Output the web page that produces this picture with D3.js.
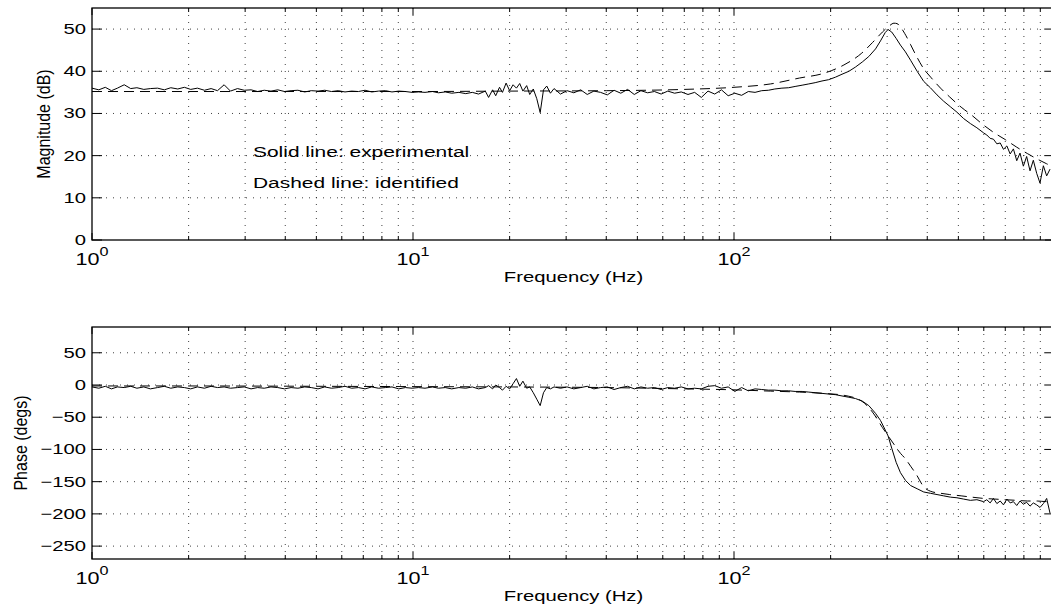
<!DOCTYPE html>
<html>
<head>
<meta charset="utf-8">
<script src="https://cdn.jsdelivr.net/npm/d3@7"></script>
<style>
  body { margin: 0; background: #fff; }
  svg { display: block; font-family: "Liberation Sans", Arial, Helvetica, sans-serif; }
  svg text { fill: #000; -webkit-font-smoothing: antialiased; }
</style>
</head>
<body>
<div id="chart"></div>
<script>
var freqExp = [
  1.0, 1.05, 1.1, 1.15, 1.2, 1.26, 1.32, 1.38, 1.45, 1.52,
  1.6, 1.68, 1.76, 1.85, 1.94, 2.03, 2.13, 2.24, 2.35, 2.46,
  2.58, 2.7, 2.84, 2.98, 3.13, 3.28, 3.44, 3.61, 3.79, 3.98,
  4.17, 4.38, 4.6, 4.82, 5.06, 5.31, 5.57, 5.85, 6.14, 6.44,
  6.76, 7.09, 7.44, 7.81, 8.2, 8.6, 9.03, 9.47, 9.94, 10.4,
  10.9, 11.5, 12.0, 12.6, 13.2, 13.9, 14.6, 15.3, 16.0, 16.8,
  17.2, 17.7, 18.1, 18.6, 19.0, 19.5, 20.0, 20.5, 21.0, 21.5,
  22.0, 22.6, 23.1, 23.7, 24.3, 24.9, 25.5, 26.1, 26.8, 27.5,
  28.8, 30.2, 31.7, 33.3, 34.9, 36.6, 38.4, 40.3, 42.3, 44.4,
  46.6, 48.9, 51.3, 53.8, 56.5, 59.3, 62.2, 65.3, 68.5, 71.9,
  75.4, 79.1, 83.0, 87.1, 91.4, 95.9, 100.6, 105.6, 110.8, 116.3,
  122, 128, 134, 141, 148, 155, 163, 171, 179, 188,
  197, 207, 217, 228, 239, 251, 263, 276, 286, 296,
  302, 310, 320, 330, 342, 355, 372, 390, 409, 429,
  450, 472, 495, 519, 545, 571, 599, 613, 628, 643,
  659, 675, 691, 708, 725, 742, 760, 778, 797, 816,
  836, 856, 877, 898, 920, 942, 965
];
var magExp = [
  36.0, 35.6, 36.2, 35.4, 36.0, 36.8, 35.9, 36.1, 35.7, 35.9,
  36.0, 35.6, 36.1, 35.8, 36.2, 35.7, 36.0, 35.5, 35.9, 35.4,
  36.8, 35.3, 35.9, 35.5, 35.6, 35.2, 35.5, 35.3, 35.6, 35.2,
  35.4, 35.5, 35.1, 35.4, 35.3, 35.5, 35.2, 35.4, 35.1, 35.3,
  35.2, 35.5, 35.1, 35.3, 35.4, 35.1, 35.3, 35.2, 35.0, 35.1,
  35.0, 35.2, 34.9, 35.1, 34.8, 35.0, 34.7, 35.0, 34.6, 35.3,
  33.8, 35.6, 34.2, 36.2, 35.0, 37.2, 35.4, 36.8, 36.0, 37.1,
  35.3, 36.6, 34.5, 35.8, 33.5, 30.2, 35.6, 36.5, 34.8, 35.9,
  34.6, 35.4, 34.9, 35.6, 34.5, 35.3, 35.0, 34.4, 35.5, 34.8,
  35.7, 34.5, 35.4, 34.9, 35.2, 34.6, 35.3, 34.8, 35.1, 34.5,
  35.0, 33.8, 35.3, 34.6, 35.6, 34.2, 34.8, 34.3, 35.2, 35.0,
  35.4, 35.5, 35.8, 36.0, 36.1, 36.4, 36.7, 37.0, 37.3, 37.7,
  38.0, 38.6, 39.3, 40.0, 41.0, 42.2, 43.5, 45.3, 47.2, 49.2,
  49.9, 49.3, 47.8, 46.2, 44.6, 42.6, 40.0, 37.6, 36.1, 34.4,
  32.9, 31.6, 30.3, 28.8, 27.6, 26.6, 25.4, 24.9, 24.1, 23.9,
  22.8, 23.0, 21.5, 22.3, 20.4, 21.6, 18.8, 20.6, 17.5, 19.8,
  16.4, 18.9, 15.8, 13.5, 17.6, 15.2, 16.8
];
var phaseExp = [
  -3, -5, -2, -6, -3, -4, -2, -5, -3, -6,
  -4, -2, -5, -3, -4, -6, -3, -5, -2, -4,
  -3, -5, -4, -3, -6, -4, -5, -3, -4, -6,
  -4, -5, -3, -4, -6, -3, -5, -4, -2, -5,
  -4, -6, -3, -5, -4, -3, -6, -4, -5, -4,
  -5, -3, -5, -4, -6, -4, -5, -3, -6, -4,
  -1, -6, 0, -4, -8, -2, -6, 2, 10, -2,
  6, -5, -3, -12, -22, -32, -12, -4, -6, -3,
  -5, -3, -6, -4, -2, -6, -4, -3, -7, -4,
  -2, -6, -3, -5, -4, -7, -4, -5, -3, -6,
  -5, -6, -2, -1, -5, -3, -10, -4, -9, -6,
  -7, -8, -8, -9, -9, -10, -10, -11, -12, -13,
  -14, -15, -17, -19, -21, -25, -32, -44, -55, -70,
  -79, -98, -120, -136, -148, -156, -161, -166, -168, -170,
  -172, -174, -175, -177, -179, -178, -181, -178, -183, -176,
  -184, -180, -186, -177, -183, -181, -187, -180, -185, -182,
  -188, -183, -186, -190, -184, -176, -199
];

// identified model (dashed line)
var freqId = [1, 2, 5, 10, 20, 40, 70, 100, 130, 160,
  190, 220, 250, 270, 290, 305, 315, 322, 330, 340,
  355, 370, 390, 410, 440, 470, 510, 550, 600, 650,
  700, 760, 820, 880, 940, 1000];
var magId = [35.2, 35.2, 35.2, 35.2, 35.3, 35.4, 35.7, 36.2, 37.0, 38.4,
  39.5, 41.5, 44.3, 46.8, 49.3, 50.8, 51.4, 51.3, 50.5, 49.0,
  46.3, 43.6, 40.6, 38.6, 36.0, 33.9, 31.5, 29.6, 27.2, 25.3,
  23.8, 22.0, 20.5, 19.2, 18.1, 17.1];
var phaseId = [-1.5, -1.5, -2, -2.5, -3, -4, -6, -7.5, -9.5, -11,
  -13, -16, -25, -42, -66, -82, -92, -99, -106, -113,
  -126, -139, -158, -165, -168, -170, -172, -174, -176, -177,
  -178, -179, -180, -180, -181, -181];

var magTicks = [0, 10, 20, 30, 40, 50];
var phaseTicks = [50, 0, -50, -100, -150, -200, -250];
var decades = [1, 10, 100];
var decadeExp = ["0", "1", "2"];

var W = 1051, H = 609;
var SX = 1.35;   // the picture's text is stretched sideways

var svg = d3.select("#chart").append("svg")
    .attr("width", W)
    .attr("height", H);

var x = d3.scaleLog().domain([1, 1000]).range([92, 1055]);
var xTicks = x.ticks();

function addText(g, px, py, anchor, size, str) {
  return g.append("text")
      .attr("transform", "translate(" + px + "," + py + ") scale(" + SX + ",1)")
      .attr("text-anchor", anchor)
      .attr("font-size", size)
      .attr("fill", "#000")
      .text(str);
}

function drawPanel(p) {
  var y = d3.scaleLinear().domain(p.yDomain).range([p.bottom, p.top]);
  var g = svg.append("g");
  var x0 = x.range()[0], x1 = x.range()[1];

  // dotted grid
  g.selectAll(".vgrid")
      .data(xTicks.filter(function(v) { return v > 1 && v < 1000; }))
      .enter().append("line")
      .attr("x1", function(d) { return x(d); })
      .attr("x2", function(d) { return x(d); })
      .attr("y1", p.top).attr("y2", p.bottom)
      .attr("stroke", "#000").attr("stroke-opacity", 0.75)
      .attr("stroke-width", 1)
      .attr("stroke-dasharray", "1,6");
  g.selectAll(".hgrid")
      .data(p.yTicks.filter(function(v) { return y(v) < p.bottom - 1; }))
      .enter().append("line")
      .attr("x1", x0).attr("x2", x1)
      .attr("y1", function(d) { return y(d); })
      .attr("y2", function(d) { return y(d); })
      .attr("stroke", "#000").attr("stroke-opacity", 0.75)
      .attr("stroke-width", 1)
      .attr("stroke-dasharray", "1,6");

  // x ticks, bottom and top, pointing in
  function tickLen(v) { return decades.indexOf(v) >= 0 ? 7 : 4; }
  g.selectAll(".xtb").data(xTicks).enter().append("line")
      .attr("x1", function(d) { return x(d); }).attr("x2", function(d) { return x(d); })
      .attr("y1", p.bottom).attr("y2", function(d) { return p.bottom - tickLen(d); })
      .attr("stroke", "#000");
  g.selectAll(".xtt").data(xTicks).enter().append("line")
      .attr("x1", function(d) { return x(d); }).attr("x2", function(d) { return x(d); })
      .attr("y1", p.top).attr("y2", function(d) { return p.top + tickLen(d); })
      .attr("stroke", "#000");

  // y ticks, left and right
  g.selectAll(".ytl").data(p.yTicks).enter().append("line")
      .attr("x1", x0).attr("x2", x0 + 10)
      .attr("y1", function(d) { return y(d); }).attr("y2", function(d) { return y(d); })
      .attr("stroke", "#000");
  g.selectAll(".ytr").data(p.yTicks).enter().append("line")
      .attr("x1", x1).attr("x2", x1 - 10)
      .attr("y1", function(d) { return y(d); }).attr("y2", function(d) { return y(d); })
      .attr("stroke", "#000");

  // box
  g.append("rect")
      .attr("x", x0).attr("y", p.top)
      .attr("width", x1 - x0).attr("height", p.bottom - p.top)
      .attr("fill", "none").attr("stroke", "#000").attr("stroke-width", 1.3);

  // curves
  var solid = d3.line()
      .x(function(d) { return x(d[0]); })
      .y(function(d) { return y(d[1]); });
  var dashed = d3.line()
      .x(function(d) { return x(d[0]); })
      .y(function(d) { return y(d[1]); })
      .curve(d3.curveMonotoneX);

  g.append("path")
      .datum(d3.zip(freqId, p.ident))
      .attr("d", dashed)
      .attr("fill", "none").attr("stroke", "#000").attr("stroke-width", 1)
      .attr("stroke-dasharray", "10,6");
  g.append("path")
      .datum(d3.zip(freqExp, p.exper))
      .attr("d", solid)
      .attr("fill", "none").attr("stroke", "#000").attr("stroke-width", 1);

  // y tick labels
  p.yTicks.forEach(function(v) {
    addText(g, x0 - 6, y(v) + 5, "end", 15, String(v).replace("-", "\u2212"));
  });

  // decade labels 10^n
  decades.forEach(function(v, i) {
    var t = addText(g, x(v), p.bottom + 25, "middle", 16, "");
    t.append("tspan").text("10");
    t.append("tspan").attr("dy", -9).attr("font-size", 12).text(decadeExp[i]);
  });

  addText(g, (x0 + x1) / 2, p.bottom + 42, "middle", 15, "Frequency (Hz)");

  g.append("text")
      .attr("transform", "translate(" + p.labelX + "," + (p.top + p.bottom) / 2 + ") scale(1.15,1) rotate(-90)")
      .attr("text-anchor", "middle")
      .attr("font-size", 16)
      .attr("fill", "#000")
      .text(p.yLabel);

  return g;
}

var magPanel = drawPanel({
  top: 8, bottom: 240, yDomain: [0, 55], yTicks: magTicks, labelX: 50,
  yLabel: "Magnitude (dB)", exper: magExp, ident: magId
});
drawPanel({
  top: 327, bottom: 559, yDomain: [-270, 90], yTicks: phaseTicks, labelX: 27,
  yLabel: "Phase (degs)", exper: phaseExp, ident: phaseId
});

addText(magPanel, 253, 157, "start", 15.5, "Solid line: experimental");
addText(magPanel, 253, 188, "start", 15.5, "Dashed line: identified");
</script>
</body>
</html>
